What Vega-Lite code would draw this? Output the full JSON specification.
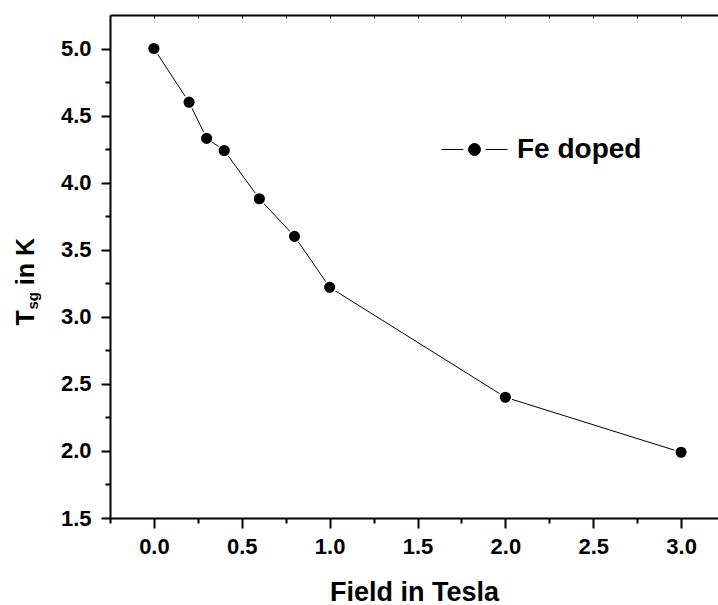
{
  "$schema": "https://vega.github.io/schema/vega-lite/v6.json",
  "width": 608,
  "height": 503,
  "autosize": {"type": "none"},
  "padding": {"left": 110, "top": 15, "right": 0, "bottom": 87},
  "background": "white",
  "config": {"view": {"stroke": null}, "font": "Liberation Sans"},
  "data": {
    "values": [
      {"field": 0.0, "tsg": 5.0, "series": "Fe doped"},
      {"field": 0.2, "tsg": 4.6, "series": "Fe doped"},
      {"field": 0.3, "tsg": 4.33, "series": "Fe doped"},
      {"field": 0.4, "tsg": 4.24, "series": "Fe doped"},
      {"field": 0.6, "tsg": 3.88, "series": "Fe doped"},
      {"field": 0.8, "tsg": 3.6, "series": "Fe doped"},
      {"field": 1.0, "tsg": 3.22, "series": "Fe doped"},
      {"field": 2.0, "tsg": 2.4, "series": "Fe doped"},
      {"field": 3.0, "tsg": 1.99, "series": "Fe doped"}
    ]
  },
  "layer": [
    {
      "mark": {"type": "line", "color": "black", "strokeWidth": 1},
      "encoding": {
        "x": {
          "field": "field",
          "type": "quantitative",
          "scale": {"domain": [-0.25, 3.21], "nice": false, "zero": false},
          "axis": {
            "orient": "bottom",
            "values": [0, 0.5, 1, 1.5, 2, 2.5, 3],
            "format": ".1f",
            "labelOverlap": false,
            "grid": false,
            "domainColor": "black",
            "domainWidth": 2,
            "tickColor": "black",
            "tickWidth": 2,
            "tickSize": 10,
            "labelPadding": 8,
            "labelFont": "Liberation Sans",
            "labelFontSize": 22,
            "labelFontWeight": "bold",
            "labelColor": "black",
            "title": "Field in Tesla",
            "titleFont": "Liberation Sans",
            "titleFontSize": 27,
            "titleFontWeight": "bold",
            "titleColor": "black",
            "titleBaseline": "alphabetic",
            "titleY": 82
          }
        },
        "y": {
          "field": "tsg",
          "type": "quantitative",
          "scale": {"domain": [1.5, 5.25], "nice": false, "zero": false},
          "axis": {
            "orient": "left",
            "values": [1.5, 2, 2.5, 3, 3.5, 4, 4.5, 5],
            "format": ".1f",
            "labelOverlap": false,
            "labelAlign": "right",
            "labelBaseline": "middle",
            "grid": false,
            "domainColor": "black",
            "domainWidth": 2,
            "tickColor": "black",
            "tickWidth": 2,
            "tickSize": 9,
            "labelPadding": 10,
            "labelFont": "Liberation Sans",
            "labelFontSize": 22,
            "labelFontWeight": "bold",
            "labelColor": "black",
            "title": "T\u2003in K",
            "titleFont": "Liberation Sans",
            "titleFontSize": 25,
            "titleFontWeight": "bold",
            "titleColor": "black",
            "titleAngle": 270,
            "titleAlign": "left",
            "titleBaseline": "alphabetic",
            "titleX": -77,
            "titleY": 310
          }
        },
        "color": {
          "field": "series",
          "type": "nominal",
          "scale": {"range": ["black"]},
          "legend": {
            "title": null,
            "orient": "none",
            "legendX": 331,
            "legendY": 101,
            "padding": 0,
            "symbolType": "M-1,0H-0.34M0.34,0H1M-0.18,0A0.18,0.18 0 1,0 0.18,0A0.18,0.18 0 1,0 -0.18,0Z",
            "symbolSize": 4356,
            "symbolStrokeWidth": 1,
            "symbolStrokeColor": "black",
            "symbolFillColor": "black",
            "labelFont": "Liberation Sans",
            "labelFontSize": 28,
            "labelFontWeight": "bold",
            "labelColor": "black",
            "labelOffset": 9,
            "encode": {
              "symbols": {
                "update": {
                  "fill": {"value": "black"},
                  "stroke": {"value": "black"},
                  "strokeWidth": {"value": 1},
                  "opacity": {"value": 1}
                }
              }
            }
          }
        }
      }
    },
    {
      "mark": {"type": "point", "filled": true, "fill": "black", "size": 160, "stroke": "white", "strokeWidth": 1.5, "opacity": 1},
      "encoding": {
        "x": {
          "field": "field",
          "type": "quantitative",
          "axis": {
            "orient": "top",
            "values": [-0.25, 0, 0.25, 0.5, 0.75, 1, 1.25, 1.5, 1.75, 2, 2.25, 2.5, 2.75, 3],
            "labels": false,
            "grid": false,
            "domainColor": "black",
            "domainWidth": 2,
            "tickColor": "black",
            "tickWidth": 1,
            "tickSize": -3,
            "title": "sg",
            "titleFont": "Liberation Sans",
            "titleFontSize": 15,
            "titleFontWeight": "bold",
            "titleColor": "black",
            "titleAngle": 270,
            "titleAlign": "left",
            "titleBaseline": "alphabetic",
            "titleX": -73,
            "titleY": 294
          }
        },
        "y": {
          "field": "tsg",
          "type": "quantitative",
          "axis": {
            "orient": "left",
            "values": [1.75, 2.25, 2.75, 3.25, 3.75, 4.25, 4.75],
            "labels": false,
            "domain": false,
            "grid": false,
            "tickColor": "black",
            "tickWidth": 2,
            "tickSize": 5,
            "title": null
          }
        }
      }
    },
    {
      "mark": {"type": "point", "opacity": 0},
      "encoding": {
        "x": {
          "field": "field",
          "type": "quantitative",
          "axis": {
            "orient": "bottom",
            "values": [-0.25, 0.25, 0.75, 1.25, 1.75, 2.25, 2.75],
            "labels": false,
            "domain": false,
            "grid": false,
            "tickColor": "black",
            "tickWidth": 2,
            "tickSize": 5,
            "title": null
          }
        },
        "y": {
          "field": "tsg",
          "type": "quantitative",
          "axis": null
        }
      }
    }
  ],
  "resolve": {"axis": {"x": "independent", "y": "independent"}}
}
